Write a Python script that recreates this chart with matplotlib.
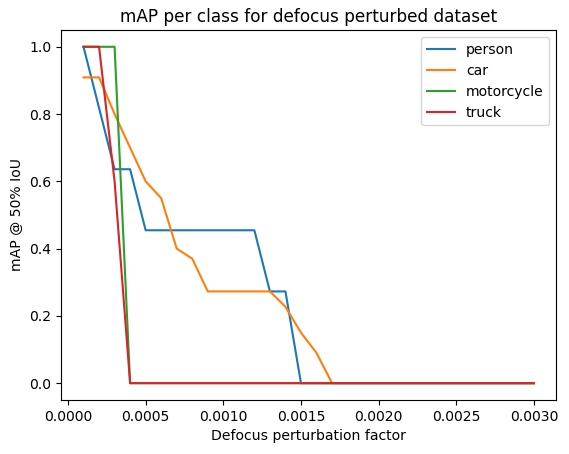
import matplotlib
matplotlib.use("Agg")
import matplotlib.pyplot as plt
import numpy as np

factors = [round(0.0001 * i, 4) for i in range(1, 31)]

person = [1.0, 0.818, 0.636, 0.636, 0.4545, 0.4545, 0.4545, 0.4545, 0.4545, 0.4545,
          0.4545, 0.4545, 0.2727, 0.2727, 0.0] + [0.0] * 15
car = [0.909, 0.909, 0.80, 0.70, 0.60, 0.55, 0.40, 0.37, 0.2727, 0.2727,
       0.2727, 0.2727, 0.2727, 0.227, 0.15, 0.09, 0.0] + [0.0] * 13
motorcycle = [1.0, 1.0, 1.0, 0.0] + [0.0] * 26
truck = [1.0, 1.0, 0.6, 0.0] + [0.0] * 26

series = {"person": person, "car": car, "motorcycle": motorcycle, "truck": truck}

DPI = 101
fig = plt.figure(figsize=(569 / DPI, 454 / DPI), dpi=DPI)
ax = fig.add_axes([0.1072, 0.119, 0.8708, 0.815])
for name, vals in series.items():
    ax.plot(factors, vals, label=name)
ax.set_title("mAP per class for defocus perturbed dataset")
ax.set_xlabel("Defocus perturbation factor")
ax.set_ylabel("mAP @ 50% IoU")
ax.legend(loc="upper right")
fig.savefig("out.png", dpi=DPI)
